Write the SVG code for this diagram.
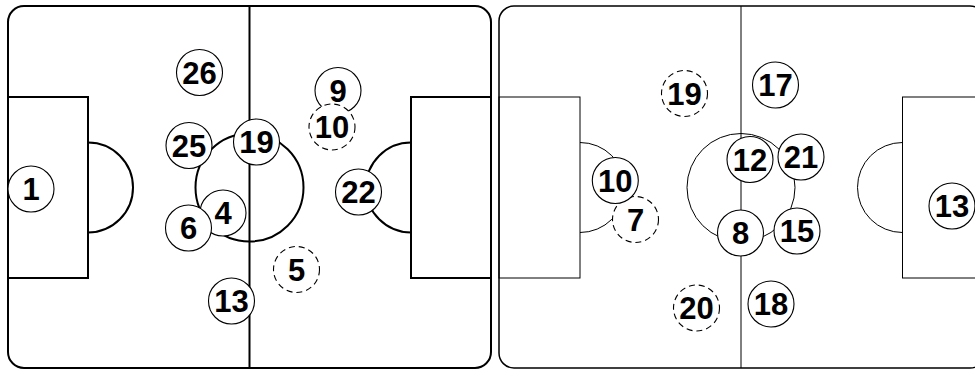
<svg xmlns="http://www.w3.org/2000/svg" width="975" height="369" viewBox="0 0 975 369">
<defs>
<style>
.bold{fill:none;stroke:#000;stroke-width:2}
.thin{fill:none;stroke:#000;stroke-width:1}
.p circle{fill:#fff;stroke:#000;stroke-width:1.1}
.p.d circle{stroke-dasharray:6,4}
.p text{font-family:"Liberation Sans",Arial,sans-serif;font-weight:bold;font-size:31px;text-anchor:middle;fill:#000}
</style>
</defs>
<rect width="975" height="369" fill="#fff"/>
<g id="pitch-left">
<rect class="bold" x="8" y="6" width="483" height="362" rx="16"/>
<line class="bold" x1="249.5" y1="6" x2="249.5" y2="368"/>
<circle class="bold" cx="249.5" cy="187.5" r="54"/>
<rect class="bold" x="8" y="97" width="80" height="181"/>
<rect class="bold" x="411" y="97" width="80" height="181"/>
<path class="bold" d="M88 142.5 A45 45 0 0 1 88 232.5"/>
<path class="bold" d="M411 142.5 A45 45 0 0 0 411 232.5"/>
</g>
<g id="pitch-right">
<rect x="499" y="6" width="486" height="362" rx="15" fill="none" stroke="#000" stroke-width="1.5"/>
<line class="thin" x1="741" y1="6" x2="741" y2="368"/>
<circle class="thin" cx="741" cy="187.5" r="54"/>
<rect class="thin" x="499" y="97" width="81" height="181"/>
<rect class="thin" x="902.5" y="97" width="85" height="181"/>
<path class="thin" d="M580 142.5 A45 45 0 0 1 580 232.5"/>
<path class="thin" d="M902.5 142.5 A45 45 0 0 0 902.5 232.5"/>
</g>
<g id="connectors"></g>
<g id="L1" class="p"><circle cx="31" cy="189" r="23"/><text x="31" y="200">1</text></g>
<g id="L26" class="p"><circle cx="199.5" cy="72.5" r="23"/><text x="199.5" y="83.5">26</text></g>
<g id="L25" class="p"><circle cx="189" cy="145.5" r="23"/><text x="189" y="156.5">25</text></g>
<g id="L19" class="p"><circle cx="256.5" cy="142" r="23"/><text x="256.5" y="153">19</text></g>
<g id="L9" class="p"><circle cx="338" cy="90.5" r="23"/><text x="338" y="101.5">9</text></g>
<g id="L10" class="p d"><circle cx="332" cy="127" r="23"/><text x="332" y="138">10</text></g>
<g id="L22" class="p"><circle cx="358.5" cy="192" r="23"/><text x="358.5" y="203">22</text></g>
<g id="L4" class="p"><circle cx="223" cy="213" r="23"/><text x="223" y="224">4</text></g>
<g id="L6" class="p"><circle cx="188.5" cy="228" r="23"/><text x="188.5" y="239">6</text></g>
<g id="L13" class="p"><circle cx="231.5" cy="301" r="23"/><text x="231.5" y="312">13</text></g>
<g id="L5" class="p d"><circle cx="296.5" cy="269.5" r="23"/><text x="296.5" y="280.5">5</text></g>
<g id="R19" class="p d"><circle cx="684.5" cy="93.5" r="23"/><text x="684.5" y="104.5">19</text></g>
<g id="R17" class="p"><circle cx="775.5" cy="85" r="23"/><text x="775.5" y="96">17</text></g>
<g id="R12" class="p"><circle cx="750" cy="159.5" r="23"/><text x="750" y="170.5">12</text></g>
<g id="R21" class="p"><circle cx="801" cy="157" r="23"/><text x="801" y="168">21</text></g>
<g id="R7" class="p d"><circle cx="635.5" cy="219.5" r="23"/><text x="635.5" y="230.5">7</text></g>
<g id="R10" class="p"><circle cx="615.3" cy="180.5" r="23"/><text x="615.3" y="191.5">10</text></g>
<g id="R8" class="p"><circle cx="740.5" cy="233" r="23"/><text x="740.5" y="244">8</text></g>
<g id="R15" class="p"><circle cx="797" cy="231" r="23"/><text x="797" y="242">15</text></g>
<g id="R18" class="p"><circle cx="771" cy="304" r="23"/><text x="771" y="315">18</text></g>
<g id="R20" class="p d"><circle cx="696.5" cy="308" r="23"/><text x="696.5" y="319">20</text></g>
<g id="R13" class="p"><circle cx="952" cy="206" r="23"/><text x="952" y="217">13</text></g>
</svg>
